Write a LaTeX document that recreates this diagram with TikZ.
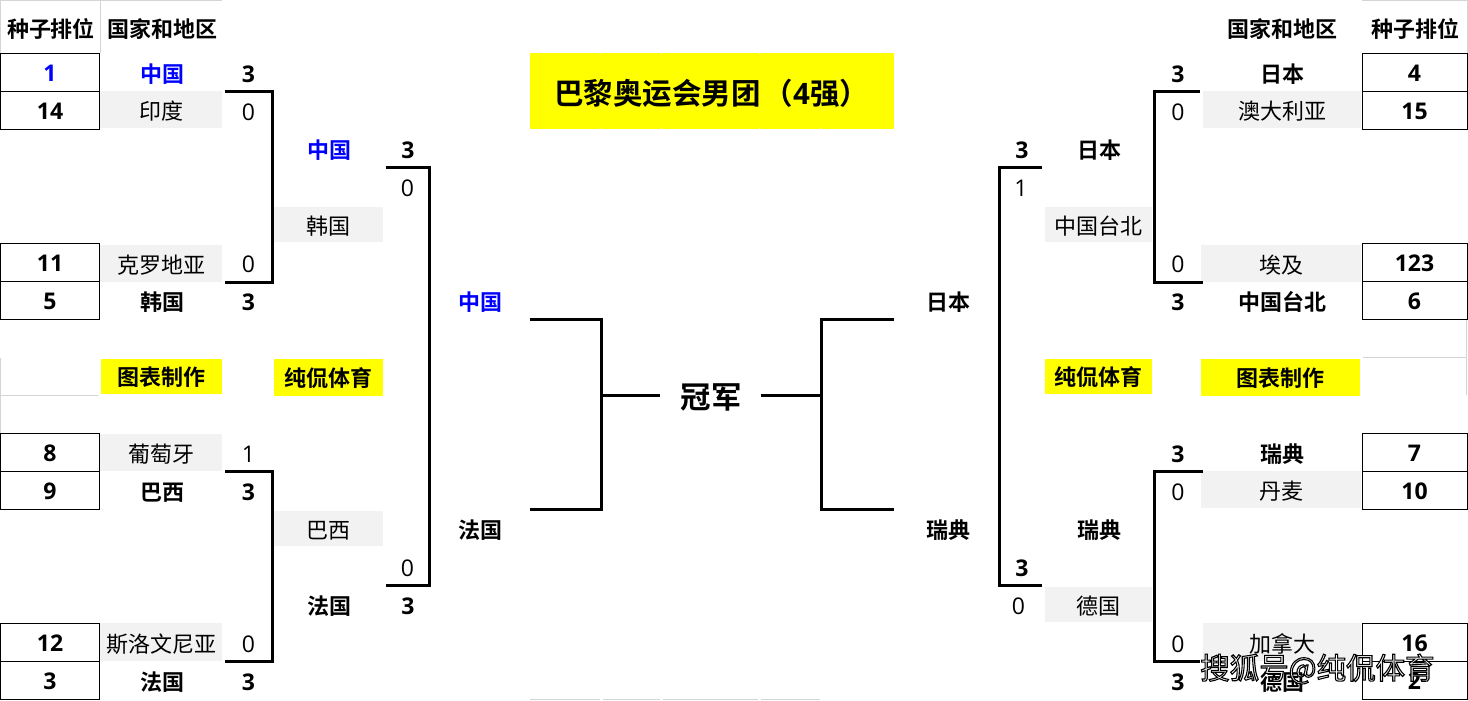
\documentclass[tikz,border=0pt]{standalone}
\usepackage{fontspec}
\setmainfont{Noto Sans CJK SC}[BoldFont={Noto Sans CJK SC Bold}]
\newfontfamily\digfont{Open Sans}[BoldFont={Open Sans Bold}]
\definecolor{cellgray}{HTML}{F2F2F2}
\definecolor{gridgray}{HTML}{D4D4D4}
\definecolor{seedblue}{HTML}{0000FF}
\definecolor{tagyellow}{RGB}{255,255,0}
\tikzset{
  x=1pt,y=-1pt,
  txt/.style={inner sep=0pt,outer sep=0pt,text height=21.4pt,text depth=2.6pt,font=\fontsize{22}{26}\selectfont},
  reg/.style={txt},
  win/.style={txt,font=\fontsize{22}{26}\selectfont\bfseries},
  champ/.style={win,text=seedblue},
  numreg/.style={txt,font=\fontsize{23}{26}\selectfont\digfont},
  numwin/.style={txt,font=\fontsize{23}{26}\selectfont\digfont\bfseries},
  numchamp/.style={numwin,text=seedblue},
  graybox/.style={reg,text height=23.4pt,fill=cellgray},
  tagbox/.style={win,fill=tagyellow},
  seedcell/.style={numwin,draw=black,line width=1pt},
  bracket/.style={line width=3pt,line cap=butt,line join=miter},
  gridline/.style={draw=gridgray,line width=1pt},
  notch/.style={draw=white,line width=1.2pt},
}
% \cell{name}{x0}{y0}{x1}{y1}{style}{text}
\newcommand{\cell}[7]{\node[#6,minimum width={(#4)-(#2)},minimum height={(#5)-(#3)}] (#1) at ({((#2)+(#4))/2},{((#3)+(#5))/2}) {#7};}
% \lab{name}{x}{y}{style}{text}
\newcommand{\lab}[5]{\node[#4] (#1) at (#2,#3) {#5};}
\begin{document}
\begin{tikzpicture}
\useasboundingbox (0,0) rectangle (1468,701);
\fill[white] (0,0) rectangle (1468,701);
% faint grid remains
\draw[gridline] (0.5,53) -- (0.5,0.5) -- (222,0.5);
\draw[gridline] (100,0.5) -- (100,53);
\draw[gridline] (1362,0.5) -- (1467,0.5) -- (1467,53);
\draw[gridline] (0.5,358) -- (0.5,433);
\draw[gridline] (0,395.5) -- (98,395.5);
\draw[gridline] (1363,357.5) -- (1466,357.5);
\draw[gridline] (1466.5,320) -- (1466.5,395);
\draw[gridline] (530,699.7) -- (600,699.7);
\draw[gridline] (603,699.7) -- (660,699.7);
\draw[gridline] (663,699.7) -- (758,699.7);
\draw[gridline] (761,699.7) -- (820,699.7);
% title
\node[fill=tagyellow,inner sep=0pt,minimum width=364pt,minimum height=76pt] (title) at (712,91) {};
\node[inner sep=0pt,font=\fontsize{29.5}{34}\selectfont\bfseries,anchor=west] (titletext) at (554,93) {巴黎奥运会男团\hspace{3pt}（{\digfont 4}强）};
\foreach \nx in {601.5,661.5,759.5}{\draw[notch] (\nx,53) -- (\nx,54.5);\draw[notch] (\nx,127.5) -- (\nx,129);}
\draw[notch] (820.5,127.5) -- (820.5,129);
% gray cells and their names, left
\cell{gA}{100}{91}{222}{128}{graybox}{印度}
\cell{gB}{100}{245}{222}{282}{graybox}{克罗地亚}
\cell{gC}{100}{434}{222}{471}{graybox}{葡萄牙}
\cell{gD}{100}{623}{222}{661}{graybox}{斯洛文尼亚}
\cell{gE}{274}{207}{383}{242}{graybox}{韩国}
\cell{gF}{274}{511}{383}{546}{graybox}{巴西}
% gray cells, right
\cell{gG}{1203}{91}{1361}{128}{graybox}{澳大利亚}
\cell{gH}{1201}{245}{1361}{282}{graybox}{埃及}
\cell{gI}{1201}{471}{1361}{508}{graybox}{丹麦}
\cell{gJ}{1203}{623}{1361}{661}{graybox}{加拿大}
\cell{gK}{1045}{207}{1152}{242}{graybox}{中国台北}
\cell{gL}{1045}{587}{1152}{622}{graybox}{德国}
% yellow tags
\cell{tA}{101}{359}{222}{394}{tagbox}{图表制作}
\cell{tB}{274}{359}{383}{396}{tagbox}{纯侃体育}
\cell{tC}{1045}{359}{1152}{394}{tagbox}{纯侃体育}
\cell{tD}{1201}{359}{1360}{396}{tagbox}{图表制作}
% headers
\lab{hA}{51}{28}{win}{种子排位}
\lab{hB}{162}{28}{win}{国家和地区}
\lab{hC}{1282}{28}{win}{国家和地区}
\lab{hD}{1415}{28}{win}{种子排位}
% seed cells left
\cell{sA}{0.5}{53.5}{99.5}{91.5}{seedcell,text=seedblue}{1}
\cell{sB}{0.5}{91.5}{99.5}{129.5}{seedcell}{14}
\cell{sC}{0.5}{243.5}{99.5}{281.5}{seedcell}{11}
\cell{sD}{0.5}{281.5}{99.5}{319.5}{seedcell}{5}
\cell{sE}{0.5}{433.5}{99.5}{471.5}{seedcell}{8}
\cell{sF}{0.5}{471.5}{99.5}{509.5}{seedcell}{9}
\cell{sG}{0.5}{623.5}{99.5}{661.5}{seedcell}{12}
\cell{sH}{0.5}{661.5}{99.5}{699.5}{seedcell}{3}
% seed cells right
\cell{sI}{1362}{53.5}{1467}{91.5}{seedcell}{4}
\cell{sJ}{1362}{91.5}{1467}{129.5}{seedcell}{15}
\cell{sK}{1362}{243.5}{1467}{281.5}{seedcell}{123}
\cell{sL}{1362}{281.5}{1467}{319.5}{seedcell}{6}
\cell{sM}{1362}{433.5}{1467}{471.5}{seedcell}{7}
\cell{sN}{1362}{471.5}{1467}{509.5}{seedcell}{10}
\cell{sO}{1362}{623.5}{1467}{661.5}{seedcell}{16}
\cell{sP}{1362}{661.5}{1467}{699.5}{seedcell}{2}
% winners, left
\lab{nA}{162}{73}{champ}{中国}
\lab{nB}{162}{301}{win}{韩国}
\lab{nC}{162}{491}{win}{巴西}
\lab{nD}{162}{681}{win}{法国}
\lab{nE}{329}{149}{champ}{中国}
\lab{nF}{329}{605}{win}{法国}
\lab{nG}{480}{301}{champ}{中国}
\lab{nH}{480}{529}{win}{法国}
% winners, right
\lab{nI}{1282}{73}{win}{日本}
\lab{nJ}{1282}{301}{win}{中国台北}
\lab{nK}{1282}{453}{win}{瑞典}
\lab{nL}{1282}{681}{win}{德国}
\lab{nM}{1099}{149}{win}{日本}
\lab{nN}{1099}{529}{win}{瑞典}
\lab{nO}{948}{301}{win}{日本}
\lab{nP}{948}{529}{win}{瑞典}
% scores, left
\lab{a1}{248.5}{73}{numwin}{3}
\lab{a2}{248.5}{111}{numreg}{0}
\lab{a3}{248.5}{263}{numreg}{0}
\lab{a4}{248.5}{301}{numwin}{3}
\lab{a5}{248.5}{453}{numreg}{1}
\lab{a6}{248.5}{491}{numwin}{3}
\lab{a7}{248.5}{643}{numreg}{0}
\lab{a8}{248.5}{681}{numwin}{3}
\lab{b1}{408}{149}{numwin}{3}
\lab{b2}{407.5}{187}{numreg}{0}
\lab{b3}{407.5}{567}{numreg}{0}
\lab{b4}{408}{605}{numwin}{3}
% scores, right
\lab{c1}{1178}{73}{numwin}{3}
\lab{c2}{1178}{111}{numreg}{0}
\lab{c3}{1178}{263}{numreg}{0}
\lab{c4}{1178}{301}{numwin}{3}
\lab{c5}{1178}{453}{numwin}{3}
\lab{c6}{1178}{491}{numreg}{0}
\lab{c7}{1178}{643}{numreg}{0}
\lab{c8}{1178}{681}{numwin}{3}
\lab{d1}{1022}{149}{numwin}{3}
\lab{d2}{1021}{187}{numreg}{1}
\lab{d3}{1022}{567}{numwin}{3}
\lab{d4}{1018.5}{605}{numreg}{0}
% champion
\node[inner sep=0pt,font=\fontsize{30.5}{34}\selectfont\bfseries] (champion) at (711,397) {冠军};
% bracket ends
\coordinate (L1a) at (225,91.5);\coordinate (L1b) at (225,282);
\coordinate (L1c) at (272,91.5);\coordinate (L1d) at (272,282);
\coordinate (L2a) at (225,471.5);\coordinate (L2b) at (225,661);
\coordinate (L2c) at (272,471.5);\coordinate (L2d) at (272,661);
\coordinate (L3a) at (386,167.5);\coordinate (L3b) at (386,585);
\coordinate (L3c) at (429,167.5);\coordinate (L3d) at (429,585);
\coordinate (L4a) at (530,319.5);\coordinate (L4b) at (530,509);
\coordinate (L4c) at (601,319.5);\coordinate (L4d) at (601,509);
\coordinate (L4m) at (601,395.5);\coordinate (L4e) at (660,395.5);
\coordinate (R1a) at (1200,91.5);\coordinate (R1b) at (1203,282);
\coordinate (R1c) at (1154,91.5);\coordinate (R1d) at (1154,282);
\coordinate (R2a) at (1203,471.5);\coordinate (R2b) at (1200,661);
\coordinate (R2c) at (1154,471.5);\coordinate (R2d) at (1154,661);
\coordinate (R3a) at (1042,167.5);\coordinate (R3b) at (1042,585);
\coordinate (R3c) at (999,167.5);\coordinate (R3d) at (999,585);
\coordinate (R4a) at (894,319.5);\coordinate (R4b) at (894,509);
\coordinate (R4c) at (821,319.5);\coordinate (R4d) at (821,509);
\coordinate (R4m) at (821,395.5);\coordinate (R4e) at (761,395.5);
\draw[bracket] (L1a) -- (L1c) -- (L1d) -- (L1b);
\draw[bracket] (L2a) -- (L2c) -- (L2d) -- (L2b);
\draw[bracket] (L3a) -- (L3c) -- (L3d) -- (L3b);
\draw[bracket] (L4a) -- (L4c) -- (L4d) -- (L4b);
\draw[bracket] (L4m) -- (L4e);
\draw[bracket] (R1a) -- (R1c) -- (R1d) -- (R1b);
\draw[bracket] (R2a) -- (R2c) -- (R2d) -- (R2b);
\draw[bracket] (R3a) -- (R3c) -- (R3d) -- (R3b);
\draw[bracket] (R4a) -- (R4c) -- (R4d) -- (R4b);
\draw[bracket] (R4m) -- (R4e);
% watermark
\node[inner sep=0pt,anchor=west,font=\fontsize{29.5}{34}\selectfont] (mark) at (1200,669)
  {\special{pdf:code q 2 Tr 1.1 w 0 0 0 RG 1 1 1 rg}搜狐号@纯侃体育\special{pdf:code Q}};
\end{tikzpicture}
\end{document}
